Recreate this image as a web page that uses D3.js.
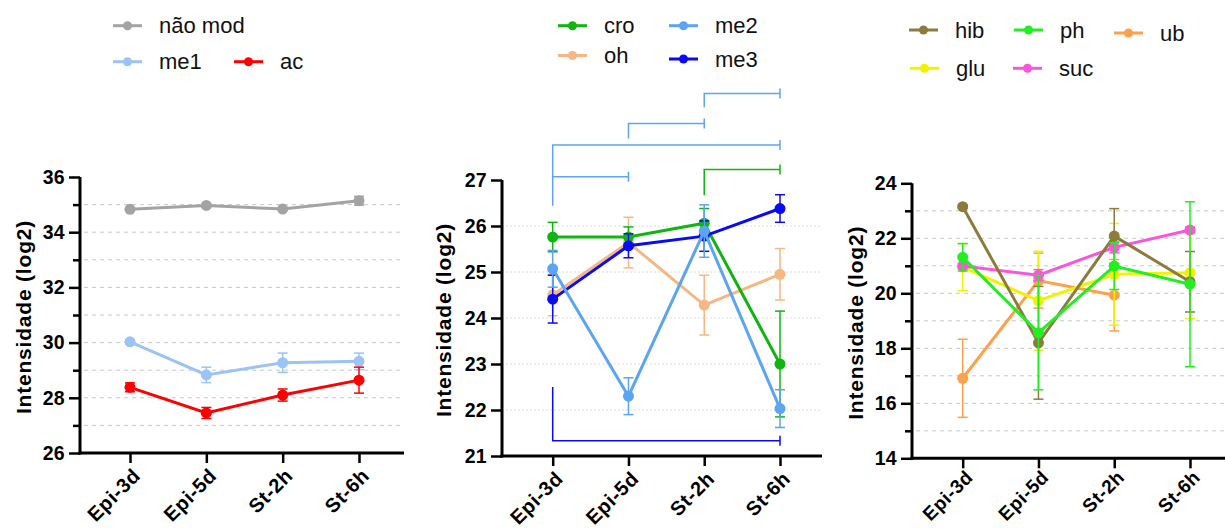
<!DOCTYPE html>
<html><head><meta charset="utf-8">
<script src="https://cdn.jsdelivr.net/npm/d3@7"></script>
<style>body{margin:0;background:#fff}svg{display:block}text{font-family:"Liberation Sans",Arial,sans-serif}</style>
</head><body><svg id="c" width="1225" height="529"></svg>
<script>
const categories = ["Epi-3d","Epi-5d","St-2h","St-6h"];

// Panel 1
const p1Ticks = [26,28,30,32,34,36];
const naoMod = [34.83,34.97,34.84,35.14], naoModErr = [0.05,0.05,0.05,0.16];
const me1 = [30.03,28.83,29.27,29.32], me1Err = [0.06,0.28,0.35,0.3];
const ac = [28.38,27.45,28.10,28.64], acErr = [0.16,0.2,0.22,0.47];

// Panel 2
const p2Ticks = [21,22,23,24,25,26,27];
const cro = [25.76,25.76,26.06,23.0], croErr = [0.32,0.22,0.32,1.15];
const oh = [24.5,25.64,24.28,24.95], ohErr = [0.45,0.55,0.65,0.56];
const me2 = [25.07,22.3,25.89,22.03], me2Err = [0.4,0.4,0.57,0.41];
const me3 = [24.41,25.57,25.78,26.38], me3Err = [0.52,0.26,0.33,0.3];
// significance brackets: [series, fromIndex, toIndex, startValue, barValue]
const brackets = [
  ["me2",0,3,26.44,27.76],
  ["me2",0,1,27.07,27.07],
  ["me2",1,2,27.9,28.23],
  ["me2",2,3,28.58,28.88],
  ["cro",2,3,26.67,27.23],
  ["me3",0,3,22.5,21.33]
];

// Panel 3
const p3Ticks = [14,16,18,20,22,24];
const hib = [23.15,18.2,22.08,20.42], hibErr = [0.05,2.05,1.0,1.1];
const ph = [21.31,18.57,20.99,20.33], phErr = [0.5,2.08,0.85,3.0];
const glu = [20.95,19.73,20.69,20.75], gluErr = [0.85,1.8,1.85,1.67];
const suc = [20.99,20.66,21.67,22.3], sucErr = [0.1,0.2,0.2,0.1];
const ub = [16.91,20.46,19.93,null], ubErr = [1.42,1.0,1.3,null];

const colors = {
  "não mod":"#a3a3a3", me1:"#9cc3f5", ac:"#ff0000",
  cro:"#11b511", oh:"#f5b784", me2:"#5ca4f4", me3:"#0a0af5",
  hib:"#8c7b3d", ph:"#22ee22", glu:"#f2f200", suc:"#fb55dc", ub:"#ffa04c"
};

const svg = d3.select("#c");

function panel(cfg){
  const g = svg.append("g");
  const y = d3.scaleLinear().domain(cfg.domain).range([cfg.bottom, cfg.top]);
  const x = d3.scaleLinear().domain([0,3]).range(cfg.xr);
  const gridVals = d3.range(cfg.domain[0]+1, cfg.domain[1]);
  g.append("g").selectAll("line").data(gridVals).join("line")
    .attr("x1", cfg.axisX+4).attr("x2", cfg.right)
    .attr("y1", d=>y(d)).attr("y2", d=>y(d))
    .attr("stroke", cfg.gridColor).attr("stroke-width",1).attr("stroke-dasharray", cfg.dash);
  const ya = g.append("g").attr("transform",`translate(${cfg.axisX},0)`)
    .call(d3.axisLeft(y).tickValues(cfg.ticks).tickSize(11).tickPadding(4).tickFormat(d3.format("d")));
  if (cfg.minor){
    g.append("g").attr("transform",`translate(${cfg.axisX},0)`)
      .call(d3.axisLeft(y).tickValues(d3.range(cfg.domain[0]+1, cfg.domain[1], 2)).tickSize(7).tickFormat(""))
      .call(s=>s.select(".domain").remove())
      .selectAll("line").attr("stroke","#000").attr("stroke-width",2.5);
  }
  ya.select(".domain").attr("stroke","#000").attr("stroke-width",3).attr("d",`M0,${cfg.bottom+1.5}V${cfg.top}`);
  ya.selectAll(".tick line").attr("stroke","#000").attr("stroke-width",2.5);
  ya.selectAll(".tick text").attr("font-size",19.5).attr("font-weight","bold").attr("fill","#000")
    .attr("letter-spacing","0.3px");
  const xa = g.append("g").attr("transform",`translate(0,${cfg.bottom})`)
    .call(d3.axisBottom(x).tickValues([0,1,2,3]).tickSize(10).tickFormat(i=>categories[i]));
  xa.select(".domain").attr("stroke","#000").attr("stroke-width",3).attr("d",`M${cfg.axisX-1.5},0H${cfg.right}`);
  xa.selectAll(".tick line").attr("stroke","#000").attr("stroke-width",2.5);
  xa.selectAll(".tick text").attr("font-size",cfg.labelSize).attr("font-weight","bold").attr("fill","#000")
    .attr("letter-spacing","0.6px")
    .attr("text-anchor","end").attr("dy",null).attr("y",null)
    .attr("transform",`translate(11,${cfg.labelDy}) rotate(-45)`);
  g.append("text").attr("transform",`translate(${cfg.titleX},${(cfg.top+cfg.bottom)/2+2}) rotate(-90)`)
    .attr("text-anchor","middle").attr("dominant-baseline","central")
    .attr("font-size",21).attr("letter-spacing","0.8px").attr("font-weight","bold").text("Intensidade (log2)");
  cfg.series.forEach(s=>{
    const c = colors[s.name];
    const pts = s.v.map((v,i)=>({i,v,e:s.e[i]})).filter(d=>d.v!=null);
    const eg = g.append("g");
    pts.forEach(d=>{
      if (!d.e) return;
      eg.append("line").attr("x1",x(d.i)).attr("x2",x(d.i)).attr("y1",y(d.v-d.e)).attr("y2",y(d.v+d.e))
        .attr("stroke",c).attr("stroke-width",1.5);
      [d.v-d.e,d.v+d.e].forEach(t=>eg.append("line").attr("x1",x(d.i)-5).attr("x2",x(d.i)+5)
        .attr("y1",y(t)).attr("y2",y(t)).attr("stroke",c).attr("stroke-width",1.5));
    });
    g.append("path").datum(pts).attr("fill","none").attr("stroke",c).attr("stroke-width",3)
      .attr("d", d3.line().x(d=>x(d.i)).y(d=>y(d.v)));
    g.append("g").selectAll("circle").data(pts).join("circle")
      .attr("cx",d=>x(d.i)).attr("cy",d=>y(d.v)).attr("r",5.5).attr("fill",c);
  });
  if (cfg.brackets){
    cfg.brackets.forEach(b=>{
      const c = colors[b[0]];
      const x1=x(b[1]), x2=x(b[2]);
      g.append("path").attr("fill","none").attr("stroke",c).attr("stroke-width",1.5)
        .attr("d",`M${x1},${y(b[3])}V${y(b[4])}H${x2}M${x2},${y(b[4])-5}V${y(b[4])+5}`);
    });
  }
  return {x,y};
}

panel({domain:[26,36], top:177, bottom:453, axisX:80, right:404, xr:[130,359], ticks:p1Ticks, minor:true,
  gridColor:"#c8c8c8", dash:"4,4", titleX:23, labelDy:24, labelSize:20,
  series:[{name:"não mod",v:naoMod,e:naoModErr},{name:"me1",v:me1,e:me1Err},{name:"ac",v:ac,e:acErr}]});
panel({domain:[21,27], top:180, bottom:456, axisX:502, right:822, xr:[552.7,780], ticks:p2Ticks, minor:false,
  gridColor:"#dcdcdc", dash:"2,2", titleX:443, brackets:brackets, labelDy:24, labelSize:20,
  series:[{name:"oh",v:oh,e:ohErr},{name:"cro",v:cro,e:croErr},{name:"me3",v:me3,e:me3Err},{name:"me2",v:me2,e:me2Err}]});
panel({domain:[14,24], top:183.3, bottom:458.3, axisX:912, right:1225, xr:[962.7,1190], ticks:p3Ticks, minor:true,
  gridColor:"#c8c8c8", dash:"4,4", titleX:855, labelDy:20, labelSize:19,
  series:[{name:"ub",v:ub,e:ubErr},{name:"glu",v:glu,e:gluErr},{name:"suc",v:suc,e:sucErr},{name:"hib",v:hib,e:hibErr},{name:"ph",v:ph,e:phErr}]});

const legendItems = [
  ["não mod",113,25.7],["me1",113,61.7],["ac",234,61.7],
  ["cro",558,25.7],["me2",669,25.7],["oh",558,55.5],["me3",669,59],
  ["hib",909,30],["ph",1014,30],["ub",1114,33],["glu",910,68.3],["suc",1013,68.3]
];
const lg = svg.append("g");
legendItems.forEach(([n,lx,ly])=>{
  const c = colors[n];
  lg.append("line").attr("x1",lx).attr("x2",lx+29).attr("y1",ly).attr("y2",ly).attr("stroke",c).attr("stroke-width",3);
  lg.append("circle").attr("cx",lx+14.5).attr("cy",ly).attr("r",4.5).attr("fill",c);
  lg.append("text").attr("x",lx+46).attr("y",ly).attr("dominant-baseline","central")
    .attr("font-size",22).attr("fill","#111").text(n);
});
</script></body></html>
